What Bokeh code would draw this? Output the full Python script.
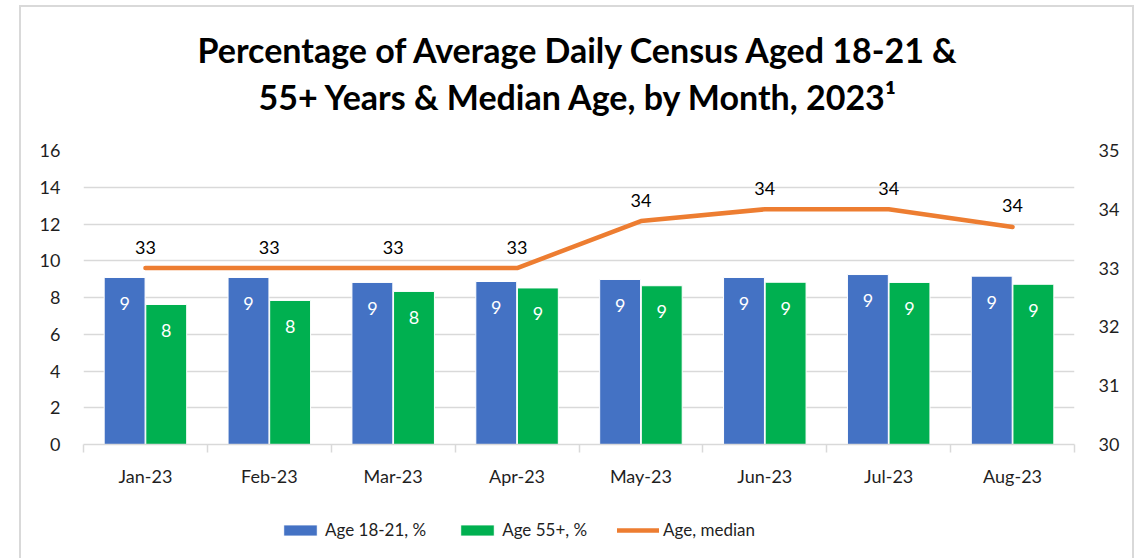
import math
from bokeh.plotting import figure
from bokeh.layouts import column
from bokeh.models import (ColumnDataSource, Range1d, LinearAxis, FixedTicker, Legend,
                          LegendItem, LabelSet, Title, InlineStyleSheet)
from bokeh.core.properties import value
from bokeh.embed import file_html
from bokeh.resources import INLINE

months = ["Jan-23", "Feb-23", "Mar-23", "Apr-23", "May-23", "Jun-23", "Jul-23", "Aug-23"]
age_18_21 = [9.09, 9.09, 8.82, 8.87, 8.98, 9.09, 9.25, 9.16]
age_55_plus = [7.62, 7.84, 8.33, 8.52, 8.64, 8.83, 8.82, 8.72]
age_median = [33.0, 33.0, 33.0, 33.0, 33.8, 34.0, 34.0, 33.7]
series_names = ["Age 18-21, %", "Age 55+, %", "Age, median"]
title_lines = ["Percentage of Average Daily Census Aged 18-21 &",
               "55+ Years & Median Age, by Month, 2023\u00b9"]

BLUE = "#4472C4"
GREEN = "#00B050"
ORANGE = "#ED7D31"
GRID = "#d9d9d9"
TXT = "#1f1f1f"
FONT = "Lato"
W = 1136
LEFT = 83

def lbl(v):
    return str(int(math.floor(v + 0.5)))

idx = list(range(len(months)))
bar_w = 0.33
off = 0.168
src = ColumnDataSource(dict(
    xb=[i - off for i in idx],
    xg=[i + off for i in idx],
    xm=idx,
    a=age_18_21,
    b=age_55_plus,
    m=age_median,
    la=[lbl(v) for v in age_18_21],
    lb=[lbl(v) for v in age_55_plus],
    lm=[lbl(v) for v in age_median],
))

p = figure(frame_width=991, frame_height=294, output_backend="svg", toolbar_location=None,
           x_range=Range1d(-0.5, len(months) - 0.5), y_range=Range1d(0, 16),
           min_border_left=LEFT, min_border_right=W - LEFT - 991, min_border_top=150,
           min_border_bottom=50)
p.extra_y_ranges = {"age": Range1d(30, 35)}
p.outline_line_color = None
p.background_fill_color = "white"
p.border_fill_color = "white"
p.stylesheets = [InlineStyleSheet(css=""":host::after { content: ""; position: absolute;
 left: 19px; top: 5px; right: 2px; bottom: 0px; border: 2px solid #d9d9d9; border-bottom: none;
 pointer-events: none; }""")]

spacer = Title(text="\u00a0", text_font=FONT, text_font_size="10px", standoff=20)
t2 = Title(text=title_lines[1], align="center", text_font=FONT, text_font_style="bold",
           text_font_size="34px", text_color="#000000", standoff=0)
t1 = Title(text=title_lines[0], align="center", text_font=FONT, text_font_style="bold",
           text_font_size="34px", text_color="#000000", standoff=8)
p.add_layout(spacer, "above")
p.add_layout(t2, "above")
p.add_layout(t1, "above")

# grid
p.xgrid.visible = False
p.ygrid.grid_line_color = GRID
p.ygrid.grid_line_width = 1.5
p.yaxis.ticker = FixedTicker(ticks=list(range(0, 17, 2)))

# left axis
ya = p.yaxis[0]
ya.axis_line_color = None
ya.major_tick_line_color = None
ya.minor_tick_line_color = None
ya.major_label_text_font = FONT
ya.major_label_text_font_size = "18px"
ya.major_label_text_color = TXT
ya.major_label_standoff = 17

# right axis
ra = LinearAxis(y_range_name="age", ticker=FixedTicker(ticks=list(range(30, 36))))
ra.axis_line_color = None
ra.major_tick_line_color = None
ra.minor_tick_line_color = None
ra.major_label_text_font = FONT
ra.major_label_text_font_size = "18px"
ra.major_label_text_color = TXT
ra.major_label_standoff = 18
p.add_layout(ra, "right")

# x axis
xa = p.xaxis[0]
xa.ticker = FixedTicker(ticks=idx, minor_ticks=[i - 0.5 for i in range(len(months) + 1)])
xa.major_label_overrides = {i: m for i, m in zip(idx, months)}
xa.axis_line_color = GRID
xa.axis_line_width = 1.5
xa.major_tick_line_color = None
xa.minor_tick_line_color = GRID
xa.minor_tick_line_width = 1.5
xa.minor_tick_out = 8
xa.minor_tick_in = 0
xa.major_label_text_font = FONT
xa.major_label_text_font_size = "18px"
xa.major_label_text_color = TXT
xa.major_label_standoff = 12

bar_style_a = dict(fill_color=BLUE, line_color="white", line_width=1)
bar_style_b = dict(fill_color=GREEN, line_color="white", line_width=1)
line_style = dict(line_color=ORANGE, line_width=4.5, line_cap="round", line_join="round")

p.vbar(x="xb", top="a", width=bar_w, source=src, **bar_style_a)
p.vbar(x="xg", top="b", width=bar_w, source=src, **bar_style_b)
p.line(x="xm", y="m", source=src, y_range_name="age", **line_style)

for xcol, ycol, tcol in (("xb", "a", "la"), ("xg", "b", "lb")):
    p.add_layout(LabelSet(x=xcol, y=ycol, text=tcol, source=src, text_align="center",
                          text_baseline="middle", y_offset=-26, text_color="white",
                          text_font=value(FONT), text_font_size="18px"))
p.add_layout(LabelSet(x="xm", y="m", text="lm", source=src, y_range_name="age",
                      text_align="center", text_baseline="middle", y_offset=21,
                      text_color="#000000", text_font=value(FONT), text_font_size="18px"))

# legend strip (separate figure so the legend is never clipped); its renderers use the
# same series data but sit outside that strip's visible range, so only the legend shows
lg = figure(width=W, height=56, output_backend="svg", toolbar_location=None,
            x_range=Range1d(-0.5, len(months) - 0.5), y_range=Range1d(100, 101),
            x_axis_type=None, y_axis_type=None,
            min_border=0, min_border_left=0, min_border_right=0, min_border_top=0,
            min_border_bottom=0)
lg.outline_line_color = None
lg.xgrid.visible = False
lg.ygrid.visible = False
lg.border_fill_color = "white"
lg.background_fill_color = "white"
lg.stylesheets = [InlineStyleSheet(css=""":host::after { content: ""; position: absolute;
 left: 19px; top: 0px; right: 2px; bottom: -10px; border-left: 2px solid #d9d9d9;
 border-right: 2px solid #d9d9d9; pointer-events: none; }""")]
lb_ = lg.vbar(x="xb", top="a", width=bar_w, source=src, **bar_style_a)
lg_ = lg.vbar(x="xg", top="b", width=bar_w, source=src, **bar_style_b)
ll_ = lg.line(x="xm", y="m", source=src, **line_style)
legend = Legend(items=[LegendItem(label=series_names[0], renderers=[lb_]),
                       LegendItem(label=series_names[1], renderers=[lg_]),
                       LegendItem(label=series_names[2], renderers=[ll_])],
                orientation="horizontal", location=(279 - LEFT, 10),
                label_text_font=FONT, label_text_font_size="17px", label_text_color=TXT,
                glyph_width=42, glyph_height=14, label_standoff=4, spacing=30,
                border_line_color=None, background_fill_alpha=0, padding=0, margin=0)
lg.add_layout(legend, "center")

layout = column(p, lg, spacing=0)
open("out.html", "w").write(file_html(layout, INLINE))
